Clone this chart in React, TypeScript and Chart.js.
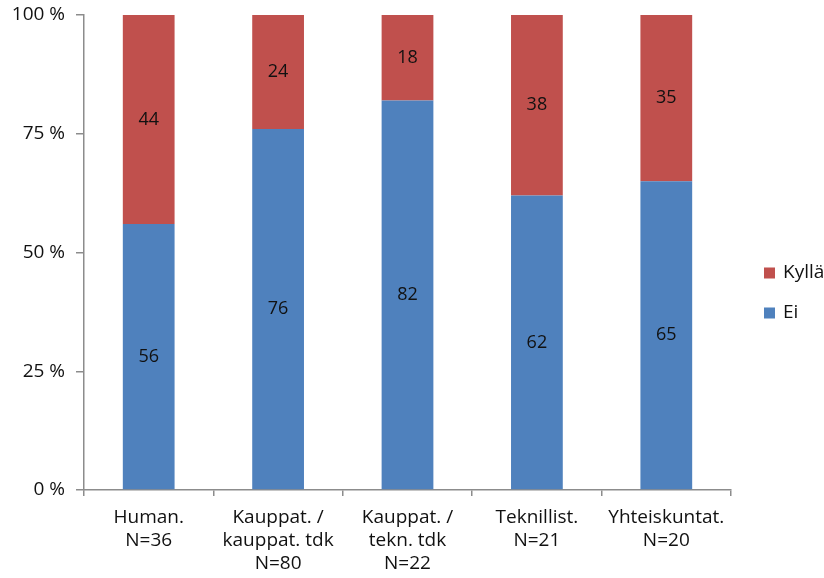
import React, { useEffect, useRef } from "react";
import { Chart, registerables } from "chart.js";

Chart.register(...registerables);

const categories: string[][] = [
  ["Human.", "N=36"],
  ["Kauppat. /", "kauppat. tdk", "N=80"],
  ["Kauppat. /", "tekn. tdk", "N=22"],
  ["Teknillist.", "N=21"],
  ["Yhteiskuntat.", "N=20"],
];
const eiValues = [56, 76, 82, 62, 65];
const kyllaValues = [44, 24, 18, 38, 35];
const yTicks = [0, 25, 50, 75, 100];

const FONT = "'Open Sans', 'Liberation Sans', sans-serif";
const TEXT = "#111111";
const AXIS = "#8c8c8c";

const valueLabels = {
  id: "valueLabels",
  afterDatasetsDraw(chart: any) {
    const ctx = chart.ctx;
    ctx.save();
    ctx.font = `18px ${FONT}`;
    ctx.fillStyle = TEXT;
    ctx.textAlign = "center";
    ctx.textBaseline = "middle";
    chart.data.datasets.forEach((ds: any, di: number) => {
      const meta = chart.getDatasetMeta(di);
      meta.data.forEach((el: any, i: number) => {
        const v = ds.data[i];
        const y = (el.y + el.base) / 2;
        ctx.fillText(String(v), el.x, y);
      });
    });
    ctx.restore();
  },
};

const sideLegend = {
  id: "sideLegend",
  afterDraw(chart: any) {
    const ctx = chart.ctx;
    const area = chart.chartArea;
    const items = chart.data.datasets.map((d: any) => ({ label: d.label, color: d.backgroundColor })).reverse();
    const x = area.right + 33;
    const spacing = 40;
    const startY = chart.height / 2 + 4 - ((items.length - 1) * spacing) / 2;
    ctx.save();
    ctx.font = `19px ${FONT}`;
    ctx.textBaseline = "middle";
    ctx.textAlign = "left";
    items.forEach((it: any, i: number) => {
      const y = startY + i * spacing;
      ctx.fillStyle = it.color;
      ctx.fillRect(x, y - 5.5, 11, 11);
      ctx.fillStyle = TEXT;
      ctx.fillText(it.label, x + 19, y);
    });
    ctx.restore();
  },
};

export default function App() {
  const ref = useRef<HTMLCanvasElement | null>(null);
  useEffect(() => {
    if (!ref.current) return;
    const chart = new Chart(ref.current, {
      type: "bar",
      data: {
        labels: categories as any,
        datasets: [
          { label: "Ei", data: eiValues, backgroundColor: "#4F81BD", barPercentage: 0.4, categoryPercentage: 1 },
          { label: "Kyllä", data: kyllaValues, backgroundColor: "#C0504D", barPercentage: 0.4, categoryPercentage: 1 },
        ],
      },
      options: {
        animation: false,
        responsive: true,
        maintainAspectRatio: false,
        layout: { padding: { top: 15, right: 93, left: 0, bottom: 0 } },
        plugins: {
          legend: { display: false },
          tooltip: { enabled: false },
          title: { display: false },
        },
        scales: {
          x: {
            stacked: true,
            border: { display: true, color: AXIS, width: 1.5 },
            grid: {
              display: true,
              offset: true,
              drawOnChartArea: false,
              drawTicks: true,
              tickLength: 6,
              color: AXIS,
              lineWidth: 1.5,
            },
            ticks: {
              color: TEXT,
              font: { family: FONT, size: 19, lineHeight: 1.22 },
              padding: 10,
              maxRotation: 0,
              autoSkip: false,
            },
            afterFit(scale: any) {
              scale.height = 88;
            },
          },
          y: {
            stacked: true,
            min: 0,
            max: 100,
            afterBuildTicks(scale: any) {
              scale.ticks = yTicks.map((v) => ({ value: v }));
            },
            border: { display: true, color: AXIS, width: 1.5 },
            grid: {
              display: true,
              drawOnChartArea: false,
              drawTicks: true,
              tickLength: 8,
              color: AXIS,
              lineWidth: 1.5,
            },
            ticks: {
              color: TEXT,
              font: { family: FONT, size: 19 },
              padding: 11,
              callback: (v: any) => `${v} %`,
            },
            afterFit(scale: any) {
              scale.width = 84;
              scale.paddingTop = 0;
              scale.paddingBottom = 0;
            },
          },
        },
      },
      plugins: [valueLabels, sideLegend],
    });
    return () => chart.destroy();
  }, []);
  return (
    <div style={{ position: "fixed", left: 0, top: 0, width: 824, height: 578, background: "#fff" }}>
      <canvas ref={ref} />
    </div>
  );
}
